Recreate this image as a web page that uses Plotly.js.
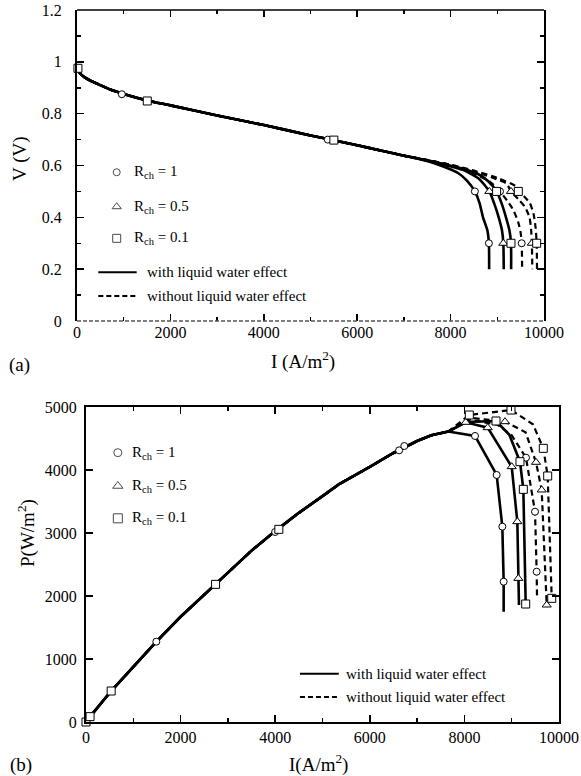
<!DOCTYPE html>
<html><head><meta charset="utf-8">
<script src="https://cdn.plot.ly/plotly-3.0.1.min.js"></script>
<style>html,body{margin:0;padding:0;background:#fff}#chart{width:581px;height:776px}</style>
</head><body><div id="chart"></div>
<script>
// ---------- Panel (a): V vs I ----------
const trunkI_a = [15, 60, 150, 300, 450, 700, 1000, 1500, 2000, 3000, 4000, 5000, 5500, 6000, 6500, 7000];
const trunkV_a = [0.972, 0.957, 0.942, 0.926, 0.914, 0.894, 0.876, 0.851, 0.832, 0.793, 0.756, 0.716, 0.697, 0.678, 0.658, 0.638];

const r1WithI_a = [7300, 7600, 7900, 8158, 8350, 8520, 8620, 8694, 8787, 8820, 8825];
const r1WithV_a = [0.626, 0.612, 0.592, 0.571, 0.542, 0.5, 0.455, 0.40, 0.35, 0.3, 0.2];
const r05WithI_a = [7300, 7600, 8000, 8265, 8600, 8830, 8940, 9030, 9100, 9129, 9138];
const r05WithV_a = [0.627, 0.615, 0.597, 0.583, 0.55, 0.5, 0.45, 0.40, 0.35, 0.3, 0.2];
const r01WithI_a = [7300, 7600, 8000, 8300, 8558, 8800, 8985, 9100, 9186, 9260, 9293, 9296];
const r01WithV_a = [0.627, 0.616, 0.599, 0.586, 0.57, 0.54, 0.5, 0.45, 0.40, 0.35, 0.3, 0.2];

const r1NoI_a = [7300, 7600, 8000, 8400, 8844, 9058, 9220, 9343, 9450, 9500, 9522, 9532];
const r1NoV_a = [0.628, 0.617, 0.601, 0.578, 0.537, 0.5, 0.462, 0.428, 0.38, 0.34, 0.3, 0.2];
const r05NoI_a = [7300, 7600, 8000, 8500, 9000, 9200, 9293, 9450, 9593, 9690, 9725, 9740, 9750];
const r05NoV_a = [0.628, 0.618, 0.602, 0.578, 0.546, 0.53, 0.5, 0.47, 0.44, 0.40, 0.35, 0.3, 0.2];
const r01NoI_a = [7300, 7600, 8000, 8500, 9000, 9415, 9450, 9600, 9700, 9780, 9820, 9843, 9850];
const r01NoV_a = [0.628, 0.618, 0.603, 0.58, 0.552, 0.518, 0.5, 0.476, 0.454, 0.41, 0.36, 0.3, 0.2];

const circI_a = [960, 5370, 8520, 8820, 9058, 9522];
const circV_a = [0.875, 0.70, 0.5, 0.3, 0.5, 0.3];
const triI_a = [8830, 9129, 9293, 9740];
const triV_a = [0.5, 0.3, 0.5, 0.3];
const sqI_a = [20, 1505, 5500, 8985, 9293, 9450, 9843];
const sqV_a = [0.975, 0.849, 0.698, 0.5, 0.3, 0.5, 0.3];

// ---------- Panel (b): P vs I ----------
const trunkI_b = [0, 86, 532, 1000, 1487, 2000, 2739, 3500, 4000, 4500, 5000, 5344, 6000, 6500, 7000, 7300, 7660];
const trunkP_b = [0, 85, 492, 880, 1275, 1670, 2190, 2720, 3030, 3320, 3585, 3772, 4050, 4270, 4460, 4550, 4610];

const r1WithI_b = [8224, 8682, 8802, 8830, 8830];
const r1WithP_b = [4540, 3921, 3101, 2227, 1751];
const r05WithI_b = [8027, 8492, 9000, 9119, 9140, 9154];
const r05WithP_b = [4757, 4672, 4053, 3180, 2280, 1857];
const r01WithI_b = [8027, 8668, 8950, 9175, 9246, 9296];
const r01WithP_b = [4762, 4778, 4560, 4132, 3693, 1873];

const r1NoI_b = [8104, 8700, 9000, 9302, 9493, 9528, 9535];
const r1NoP_b = [4800, 4720, 4550, 4196, 3338, 2386, 1989];
const r05NoI_b = [8104, 8858, 9293, 9514, 9634, 9740];
const r05NoP_b = [4830, 4767, 4600, 4122, 3683, 1857];
const r01NoI_b = [8104, 8985, 9450, 9668, 9761, 9846];
const r01NoP_b = [4873, 4952, 4725, 4344, 3905, 1963];

const circI_b = [1487, 3998, 6620, 6729, 8224, 8682, 8802, 8830, 9302, 9493, 9528];
const circP_b = [1275, 3016, 4312, 4381, 4540, 3921, 3101, 2227, 4196, 3338, 2386];
const triI_b = [8027, 8492, 9000, 9119, 9140, 8858, 9514, 9634, 9740];
const triP_b = [4757, 4672, 4053, 3180, 2280, 4767, 4122, 3683, 1857];
const sqI_b = [0, 86, 532, 2739, 4077, 8104, 8985, 8668, 9175, 9246, 9296, 9668, 9761, 9846];
const sqP_b = [0, 85, 492, 2185, 3058, 4873, 4952, 4778, 4132, 3693, 1873, 4344, 3905, 1963];

// ---------- ticks & labels ----------
const iTicks = [0, 2000, 4000, 6000, 8000, 10000];
const iTickText = ['0', '2000', '4000', '6000', '8000', '10000'];
const vTicks = [0, 0.2, 0.4, 0.6, 0.8, 1, 1.2];
const vTickText = ['0', '0.2', '0.4', '0.6', '0.8', '1', '1.2'];
const pTicks = [0, 1000, 2000, 3000, 4000, 5000];
const pTickText = ['0', '1000', '2000', '3000', '4000', '5000'];
const rchLabels = ['R<sub>ch</sub> = 1', 'R<sub>ch</sub> = 0.5', 'R<sub>ch</sub> = 0.1'];
const lineLabels = ['with liquid water effect', 'without liquid water effect'];

const W = 581, H = 776;
const SERIF = 'Liberation Serif, Times New Roman, serif';
const px = v => v / W, py = v => 1 - v / H;

function line(x, y, dash, xa, ya, smooth) {
  return {x, y, xaxis: xa, yaxis: ya, mode: 'lines', hoverinfo: 'skip', showlegend: false,
    line: {color: '#000', width: dash ? 2.2 : 2.6, dash: dash ? '6px,4px' : 'solid',
      shape: smooth ? 'spline' : 'linear', smoothing: 0.6}};
}
function marks(x, y, sym, size, xa, ya) {
  return {x, y, xaxis: xa, yaxis: ya, mode: 'markers', cliponaxis: false, hoverinfo: 'skip', showlegend: false,
    marker: {symbol: sym, size, color: '#fff', line: {color: '#000', width: 1}}};
}
const cat = (a, b) => a.concat(b);

const data = [
  line(cat(trunkI_a, r1NoI_a), cat(trunkV_a, r1NoV_a), true, 'x', 'y', true),
  line(cat(trunkI_a, r05NoI_a), cat(trunkV_a, r05NoV_a), true, 'x', 'y', true),
  line(cat(trunkI_a, r01NoI_a), cat(trunkV_a, r01NoV_a), true, 'x', 'y', true),
  line(cat(trunkI_a, r1WithI_a), cat(trunkV_a, r1WithV_a), false, 'x', 'y', true),
  line(cat(trunkI_a, r05WithI_a), cat(trunkV_a, r05WithV_a), false, 'x', 'y', true),
  line(cat(trunkI_a, r01WithI_a), cat(trunkV_a, r01WithV_a), false, 'x', 'y', true),
  marks(circI_a, circV_a, 'circle', 7, 'x', 'y'),
  marks(triI_a, triV_a, 'triangle-up', 8, 'x', 'y'),
  marks(sqI_a, sqV_a, 'square', 8, 'x', 'y'),

  line(cat(trunkI_b, r1NoI_b), cat(trunkP_b, r1NoP_b), true, 'x2', 'y2', false),
  line(cat(trunkI_b, r05NoI_b), cat(trunkP_b, r05NoP_b), true, 'x2', 'y2', false),
  line(cat(trunkI_b, r01NoI_b), cat(trunkP_b, r01NoP_b), true, 'x2', 'y2', false),
  line(cat(trunkI_b, r1WithI_b), cat(trunkP_b, r1WithP_b), false, 'x2', 'y2', false),
  line(cat(trunkI_b, r05WithI_b), cat(trunkP_b, r05WithP_b), false, 'x2', 'y2', false),
  line(cat(trunkI_b, r01WithI_b), cat(trunkP_b, r01WithP_b), false, 'x2', 'y2', false),
  marks(circI_b, circP_b, 'circle', 7, 'x2', 'y2'),
  marks(triI_b, triP_b, 'triangle-up', 8, 'x2', 'y2'),
  marks(sqI_b, sqP_b, 'square', 8, 'x2', 'y2'),

  // legend symbols
  marks([850, 850, 850], [0.574, 0.441, 0.319], null, 7, 'x', 'y'),
  marks([673, 673, 673], [4275, 3746, 3233], null, 7, 'x2', 'y2')
];
data[18].marker.symbol = ['circle', 'triangle-up', 'square'];
data[18].marker.size = [7, 8, 8];
data[19].marker.symbol = ['circle', 'triangle-up', 'square'];
data[19].marker.size = [8, 9, 9];

const tickFont = {family: SERIF, size: 16, color: '#000'};
function xAxis(domain, anchor, showline) {
  return {domain, anchor, range: [0, 10000], tickmode: 'array', tickvals: iTicks, ticktext: iTickText,
    ticks: 'inside', ticklen: 7, tickwidth: 1.5, tickcolor: '#000', mirror: 'ticks', showline,
    linecolor: '#000', linewidth: 2, showgrid: false, zeroline: false, tickfont: tickFont,
    minor: {tickmode: 'linear', tick0: 0, dtick: 1000, ticks: 'inside', ticklen: 4, tickwidth: 1.5, tickcolor: '#000', showgrid: false}};
}
const layout = {
  width: W, height: H, margin: {l: 0, r: 0, t: 0, b: 0},
  paper_bgcolor: '#fff', plot_bgcolor: '#fff', showlegend: false,
  font: {family: SERIF, color: '#000'},
  xaxis: xAxis([77 / W, 544 / W], 'y', false),
  yaxis: {domain: [py(321), py(10)], anchor: 'x', range: [0, 1.2], tickmode: 'array', tickvals: vTicks, ticktext: vTickText,
    ticks: 'inside', ticklen: 7, tickwidth: 1.5, tickcolor: '#000', mirror: 'ticks', showline: true,
    linecolor: '#000', linewidth: 2, showgrid: false, zeroline: false, tickfont: tickFont, ticklabelstandoff: 10,
    minor: {tickmode: 'linear', tick0: 0, dtick: 0.1, ticks: 'inside', ticklen: 4, tickwidth: 1.5, tickcolor: '#000', showgrid: false}},
  xaxis2: xAxis([86 / W, 559 / W], 'y2', true),
  yaxis2: {domain: [py(722), py(407)], anchor: 'x2', range: [0, 5000], tickmode: 'array', tickvals: pTicks, ticktext: pTickText,
    ticks: 'inside', ticklen: 7, tickwidth: 1.5, tickcolor: '#000', mirror: 'ticks', showline: true,
    linecolor: '#000', linewidth: 2, showgrid: false, zeroline: false, tickfont: tickFont, ticklabelstandoff: 4},
  shapes: [
    {type: 'line', xref: 'x domain', yref: 'y domain', x0: 0, x1: 1, y0: 1, y1: 1, line: {color: '#000', width: 1.5}},
    {type: 'line', xref: 'x domain', yref: 'y domain', x0: 0, x1: 1, y0: 0, y1: 0, line: {color: '#555', width: 1.5, dash: '4px,2px'}},
    {type: 'line', xref: 'x', yref: 'y', x0: 456, x1: 1278, y0: 0.188, y1: 0.188, line: {color: '#000', width: 2}},
    {type: 'line', xref: 'x', yref: 'y', x0: 456, x1: 1278, y0: 0.096, y1: 0.096, line: {color: '#000', width: 2, dash: '5px,3px'}},
    {type: 'line', xref: 'x2', yref: 'y2', x0: 4523, x1: 5344, y0: 767, y1: 767, line: {color: '#000', width: 2}},
    {type: 'line', xref: 'x2', yref: 'y2', x0: 4523, x1: 5344, y0: 397, y1: 397, line: {color: '#000', width: 2, dash: '5px,3px'}}
  ],
  annotations: [
    {text: rchLabels[0], xref: 'x', yref: 'y', x: 1171, y: 0.574, xanchor: 'left', yanchor: 'middle', showarrow: false, font: {size: 15}},
    {text: rchLabels[1], xref: 'x', yref: 'y', x: 1171, y: 0.441, xanchor: 'left', yanchor: 'middle', showarrow: false, font: {size: 15}},
    {text: rchLabels[2], xref: 'x', yref: 'y', x: 1171, y: 0.319, xanchor: 'left', yanchor: 'middle', showarrow: false, font: {size: 15}},
    {text: lineLabels[0], xref: 'x', yref: 'y', x: 1456, y: 0.188, xanchor: 'left', yanchor: 'middle', showarrow: false, font: {size: 15}},
    {text: lineLabels[1], xref: 'x', yref: 'y', x: 1456, y: 0.096, xanchor: 'left', yanchor: 'middle', showarrow: false, font: {size: 15}},
    {text: rchLabels[0], xref: 'x2', yref: 'y2', x: 923, y: 4275, xanchor: 'left', yanchor: 'middle', showarrow: false, font: {size: 15}},
    {text: rchLabels[1], xref: 'x2', yref: 'y2', x: 923, y: 3746, xanchor: 'left', yanchor: 'middle', showarrow: false, font: {size: 15}},
    {text: rchLabels[2], xref: 'x2', yref: 'y2', x: 923, y: 3233, xanchor: 'left', yanchor: 'middle', showarrow: false, font: {size: 15}},
    {text: lineLabels[0], xref: 'x2', yref: 'y2', x: 5446, y: 767, xanchor: 'left', yanchor: 'middle', showarrow: false, font: {size: 15}},
    {text: lineLabels[1], xref: 'x2', yref: 'y2', x: 5446, y: 397, xanchor: 'left', yanchor: 'middle', showarrow: false, font: {size: 15}},
    {text: 'V (V)', xref: 'paper', yref: 'paper', x: px(20), y: py(158), textangle: -90, xanchor: 'center', yanchor: 'middle', showarrow: false, font: {size: 19}},
    {text: 'I (A/m<sup>2</sup>)', xref: 'paper', yref: 'paper', x: px(303), y: py(360), xanchor: 'center', yanchor: 'middle', showarrow: false, font: {size: 19}},
    {text: '(a)', xref: 'paper', yref: 'paper', x: px(19), y: py(365), xanchor: 'center', yanchor: 'middle', showarrow: false, font: {size: 19}},
    {text: 'P(W/m<sup>2</sup>)', xref: 'paper', yref: 'paper', x: px(26), y: py(533), textangle: -90, xanchor: 'center', yanchor: 'middle', showarrow: false, font: {size: 19}},
    {text: 'I(A/m<sup>2</sup>)', xref: 'paper', yref: 'paper', x: px(318), y: py(763), xanchor: 'center', yanchor: 'middle', showarrow: false, font: {size: 19}},
    {text: '(b)', xref: 'paper', yref: 'paper', x: px(21), y: py(765), xanchor: 'center', yanchor: 'middle', showarrow: false, font: {size: 19}}
  ]
};
Plotly.newPlot('chart', data, layout, {staticPlot: true, displayModeBar: false});
</script></body></html>
